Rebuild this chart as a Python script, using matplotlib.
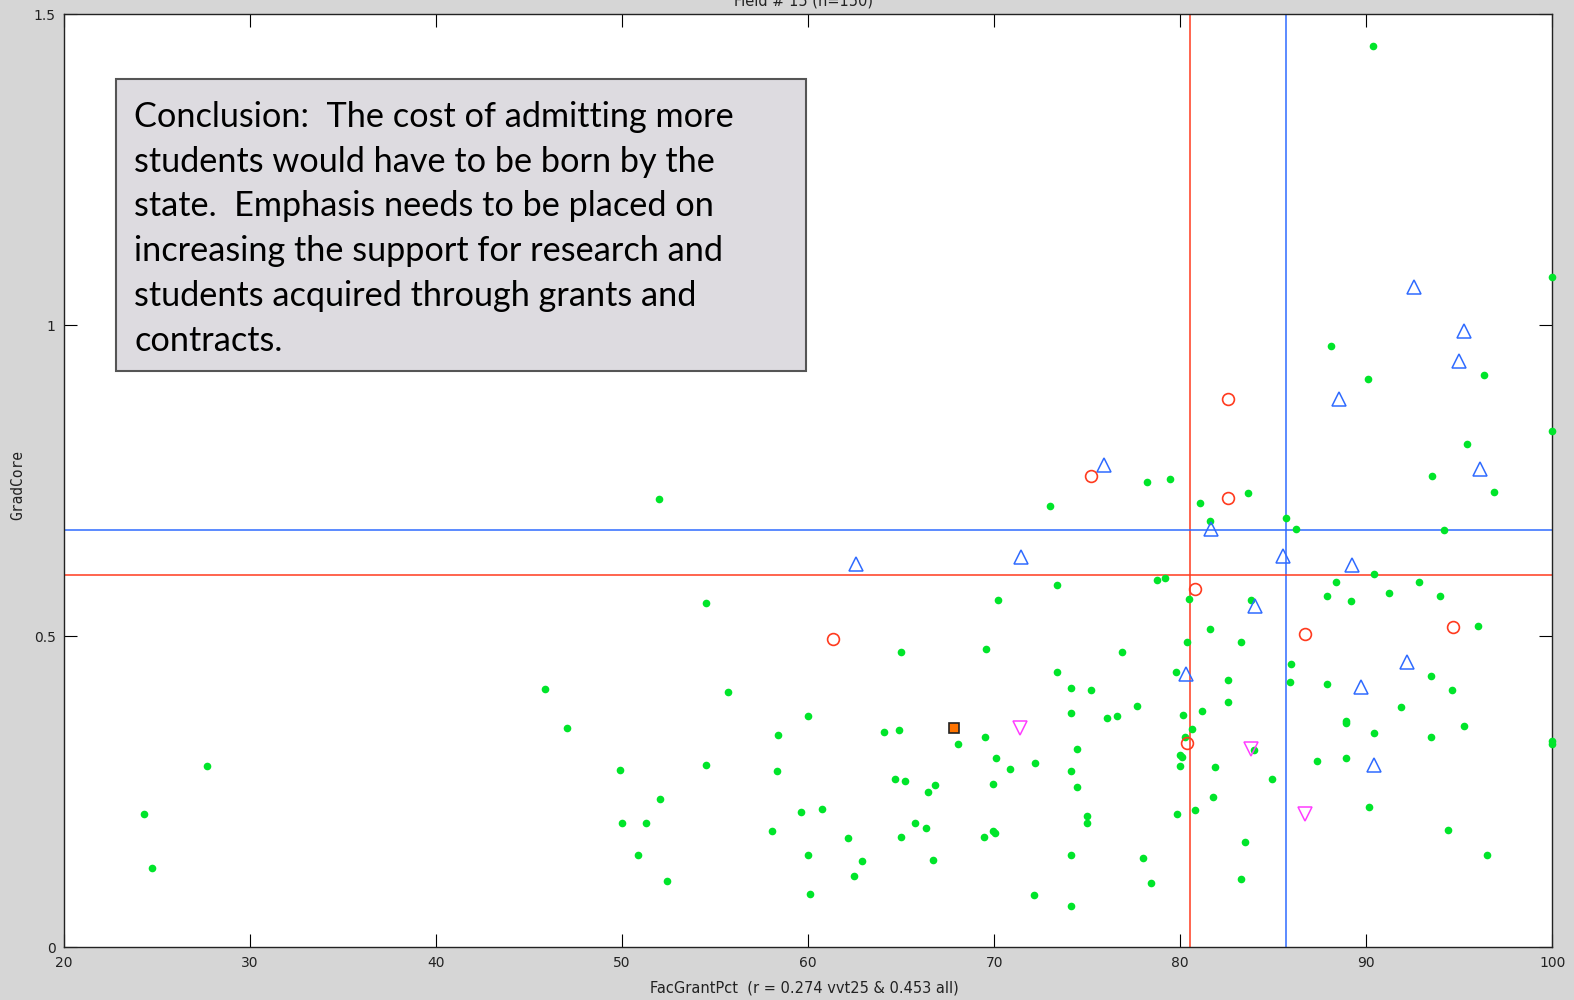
import matplotlib
matplotlib.use("Agg")
import matplotlib.pyplot as plt
from matplotlib.patches import Rectangle

# values
green_x = [78.73, 79.18, 80.49, 83.79, 90.43, 88.39, 92.83, 87.89, 89.18, 91.22,
           93.94, 95.99, 81.60, 80.35, 83.27, 85.97, 85.90, 87.87, 93.49, 94.59,
           79.77, 82.55, 82.55, 81.15, 80.13, 80.65, 80.26, 88.89, 88.89, 91.88,
           95.23, 90.43, 93.49, 100.0, 100.0, 79.99, 80.08, 79.99, 83.98, 81.89,
           84.95, 87.37, 88.89, 81.74, 80.79, 79.84, 90.13, 94.37, 96.51, 83.50,
           83.27, 78.43,
           54.53, 64.97, 69.58, 73.38, 70.23, 76.88, 73.38, 74.11, 75.21, 74.11,
           77.70, 76.60, 76.09, 55.68, 60.00, 58.38, 64.10, 64.90, 69.49, 68.04,
           74.47, 70.09, 70.83, 72.20, 74.11, 74.47, 69.95, 64.68, 65.19, 66.81,
           66.43, 49.91, 54.53, 58.32, 52.01, 49.99, 51.30, 59.62, 60.72, 58.03,
           62.13, 64.97, 65.77, 66.31, 69.43, 69.95, 70.03, 75.00, 75.00, 77.98,
           74.11, 72.14, 74.11, 66.73, 62.91, 62.49, 60.00, 60.08, 50.84, 52.40,
           24.28, 24.71, 27.68, 45.87, 47.05, 51.96,
           73.01, 78.19, 79.43, 81.06, 81.60, 83.64, 85.68, 86.22, 88.12, 90.12,
           90.35, 100.0, 100.0, 96.35, 95.40, 93.52, 96.87, 94.17]
green_y = [0.591, 0.593, 0.560, 0.558, 0.600, 0.587, 0.587, 0.565, 0.556, 0.569,
           0.565, 0.517, 0.512, 0.491, 0.491, 0.455, 0.427, 0.423, 0.436, 0.414,
           0.442, 0.430, 0.394, 0.379, 0.373, 0.351, 0.338, 0.364, 0.360, 0.386,
           0.355, 0.344, 0.338, 0.332, 0.327, 0.309, 0.306, 0.292, 0.317, 0.289,
           0.270, 0.300, 0.305, 0.242, 0.220, 0.215, 0.226, 0.189, 0.148, 0.169,
           0.110, 0.104,
           0.554, 0.475, 0.479, 0.582, 0.558, 0.475, 0.442, 0.416, 0.414, 0.377,
           0.388, 0.372, 0.368, 0.410, 0.372, 0.342, 0.346, 0.350, 0.338, 0.327,
           0.318, 0.305, 0.287, 0.296, 0.283, 0.257, 0.263, 0.270, 0.268, 0.261,
           0.250, 0.285, 0.293, 0.283, 0.239, 0.200, 0.200, 0.217, 0.222, 0.187,
           0.176, 0.178, 0.200, 0.191, 0.178, 0.187, 0.184, 0.211, 0.200, 0.143,
           0.149, 0.084, 0.067, 0.141, 0.139, 0.115, 0.149, 0.086, 0.149, 0.106,
           0.215, 0.128, 0.291, 0.415, 0.353, 0.720,
           0.709, 0.748, 0.753, 0.714, 0.685, 0.730, 0.690, 0.673, 0.966, 0.914,
           1.448, 1.078, 0.829, 0.919, 0.809, 0.757, 0.731, 0.670]

blue_x = [75.92, 62.59, 71.45, 81.65, 85.52, 84.02, 80.29, 88.55, 92.56, 95.27,
          94.98, 96.13, 89.25, 92.19, 89.70, 90.43]
blue_y = [0.775, 0.616, 0.627, 0.672, 0.629, 0.549, 0.439, 0.882, 1.062, 0.990,
          0.942, 0.769, 0.614, 0.459, 0.418, 0.293]

red_x = [75.22, 61.32, 82.56, 82.56, 80.81, 80.36, 86.71, 94.66]
red_y = [0.758, 0.495, 0.882, 0.722, 0.576, 0.329, 0.504, 0.514]

magenta_x = [71.41, 83.79, 86.71]
magenta_y = [0.353, 0.319, 0.214]

orange_x = [67.82]
orange_y = [0.353]

red_vline, blue_vline = 80.5, 85.7
red_hline, blue_hline = 0.598, 0.670

x_ticks = [20, 30, 40, 50, 60, 70, 80, 90, 100]
y_ticks = [0, 0.5, 1, 1.5]
y_ticklabels = ["0", "0.5", "1", "1.5"]

conclusion = ("Conclusion:  The cost of admitting more\n"
              "students would have to be born by the\n"
              "state.  Emphasis needs to be placed on\n"
              "increasing the support for research and\n"
              "students acquired through grants and\n"
              "contracts.")

W, H = 1574, 1000
fig = plt.figure(figsize=(W / 100, H / 100), dpi=100, facecolor="#d6d6d6")
ax = fig.add_axes([64 / W, 1 - 947.3 / H, (1552.3 - 64) / W, (947.3 - 14) / H])
ax.set_facecolor("white")

ax.axvline(red_vline, color="#ff3a1e", lw=1.1, zorder=1)
ax.axvline(blue_vline, color="#2f6bff", lw=1.1, zorder=1)
ax.axhline(red_hline, color="#ff3a1e", lw=1.1, zorder=1)
ax.axhline(blue_hline, color="#2f6bff", lw=1.1, zorder=1)

ax.plot(green_x, green_y, "o", ms=5.5, color="#00e52a", mec="none", clip_on=False, zorder=3)
ax.plot(blue_x, blue_y, "^", ms=10, mfc="none", mec="#2f6bff", mew=1.1, clip_on=False, zorder=4)
ax.plot(red_x, red_y, "o", ms=8.5, mfc="none", mec="#ff3a1e", mew=1.2, clip_on=False, zorder=4)
ax.plot(magenta_x, magenta_y, "v", ms=10, mfc="none", mec="#ff3cff", mew=1.1, clip_on=False, zorder=4)
ax.plot(orange_x, orange_y, "s", ms=7.5, mfc="#ff7300", mec="#222222", mew=1.2, clip_on=False, zorder=5)

ax.set_xlim(20, 100)
ax.set_ylim(0, 1.5)
ax.set_xticks(x_ticks)
ax.set_yticks(y_ticks)
ax.set_yticklabels(y_ticklabels)
ax.tick_params(direction="in", length=9.5, width=0.8, top=True, right=True,
               labelsize=10, labelcolor="#222222", pad=6)
for s in ax.spines.values():
    s.set_linewidth(1.0)
    s.set_color("#222222")

fig.text(804 / W, 1 - 988 / H, "FacGrantPct  (r = 0.274 vvt25 & 0.453 all)",
         ha="center", va="center", fontsize=10.5, color="#222222")
fig.text(18 / W, 1 - 485 / H, "GradCore", rotation=90, ha="center", va="center",
         fontsize=10.5, family="DejaVu Sans Mono", color="#222222")
fig.text(804 / W, 0.999, "Field # 15 (n=150)", ha="center", va="center",
         fontsize=10.5, color="#222222")

# conclusion box
fig.patches.append(Rectangle((115.5 / W, 1 - 370.5 / H), (806.2 - 115.5) / W, (370.5 - 79.3) / H,
                             transform=fig.transFigure, facecolor="#dddbe0",
                             edgecolor="#555555", lw=1.5, zorder=10))
fig.text(134 / W, 1 - 101 / H, conclusion, ha="left", va="top", fontsize=24.7,
         family="Lato", linespacing=1.49, color="black", zorder=11)

fig.savefig("out.png", dpi=100, facecolor=fig.get_facecolor())
